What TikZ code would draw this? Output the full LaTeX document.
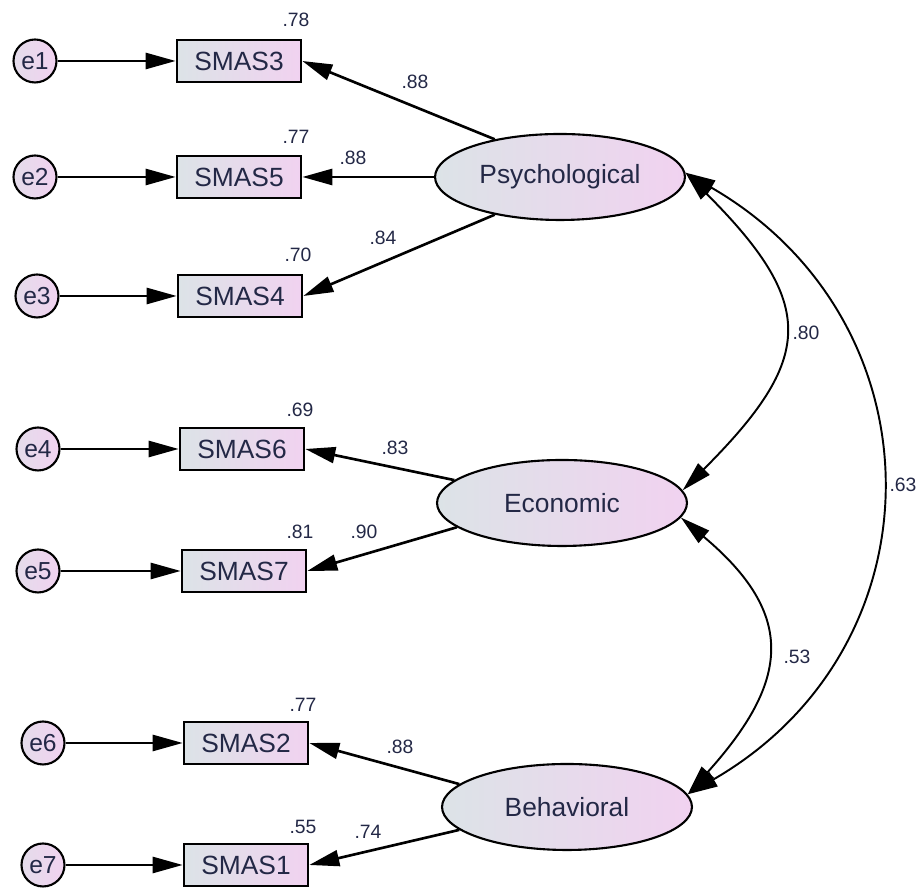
\documentclass[tikz,border=0pt]{standalone}
\usepackage{fontspec}
\setmainfont{Liberation Sans}
\usetikzlibrary{arrows.meta,shapes.geometric}

\definecolor{inkblue}{RGB}{35,40,70}
\definecolor{shadeleft}{RGB}{220,227,231}
\definecolor{shaderight}{RGB}{241,210,240}

\begin{document}
\begin{tikzpicture}[x=0.02cm, y=0.02cm, >={Triangle[length=0.6cm, width=0.32cm]},
    observed/.style={draw, line width=1.5pt, left color=shadeleft, right color=shaderight,
        minimum width=2.48cm, minimum height=0.84cm, inner sep=0pt, text=inkblue,
        font=\fontsize{15}{17}\selectfont},
    latent/.style={ellipse, draw, line width=1.2pt, left color=shadeleft, right color=shaderight,
        minimum width=5.0cm, minimum height=1.72cm, inner sep=0pt, text=inkblue,
        font=\fontsize{15}{17}\selectfont},
    errnode/.style={circle, draw, line width=1.2pt, left color=shadeleft!60!shaderight, right color=shaderight,
        minimum size=0.86cm, inner sep=0pt, text=inkblue, font=\fontsize{14}{16}\selectfont},
    coef/.style={text=inkblue, inner sep=0pt, font=\fontsize{11}{13}\selectfont},
    regpath/.style={->, line width=1.5pt},
    cov/.style={<->, line width=1.1pt}]

    \useasboundingbox (0,0) rectangle (921,888);

    % error terms
    \node[errnode] (e1) at (35,827) {e1};
    \node[errnode] (e2) at (35,711) {e2};
    \node[errnode] (e3) at (37,592) {e3};
    \node[errnode] (e4) at (38,439) {e4};
    \node[errnode] (e5) at (38,317) {e5};
    \node[errnode] (e6) at (43,145) {e6};
    \node[errnode] (e7) at (43,23) {e7};

    % indicators
    \node[observed] (s3) at (239,827) {SMAS3};
    \node[observed] (s5) at (239,711) {SMAS5};
    \node[observed] (s4) at (240,592) {SMAS4};
    \node[observed] (s6) at (242,439) {SMAS6};
    \node[observed] (s7) at (244,317) {SMAS7};
    \node[observed] (s2) at (246,145) {SMAS2};
    \node[observed] (s1) at (246,23) {SMAS1};

    % factors
    \node[latent] (psy) at (560,711) {Psychological};
    \node[latent] (eco) at (562,385) {Economic};
    \node[latent] (beh) at (567,81) {Behavioral};

    \foreach \e/\s in {e1/s3, e2/s5, e3/s4, e4/s6, e5/s7, e6/s2, e7/s1}
        \draw[regpath] (\e) -- (\s);

    % loadings
    \draw[regpath] (psy.150) -- (s3.east);
    \draw[regpath] (psy.west) -- (s5.east);
    \draw[regpath] (psy.-150) -- (s4.east);
    \draw[regpath] (eco.168) -- (s6.east);
    \draw[regpath] (eco.-167) -- (s7.east);
    \draw[regpath] (beh.168) -- (s2.east);
    \draw[regpath] (beh.-168) -- (s1.east);

    % correlations
    \draw[cov] (psy.2) to[out=-45, in=45, looseness=1.5] (eco.6);
    \draw[cov] (psy.2) to[out=-30, in=30, looseness=1.22] (beh.6);
    \draw[cov] (eco.-7) to[out=-40, in=48, looseness=1.4] (beh.6);

    % squared multiple correlations
    \node[coef] (r3) at (296,868) {.78};
    \node[coef] (r5) at (296,751) {.77};
    \node[coef] (r4) at (298,633) {.70};
    \node[coef] (r6) at (300,478) {.69};
    \node[coef] (r7) at (300,356) {.81};
    \node[coef] (r2) at (303,183) {.77};
    \node[coef] (r1) at (303,61) {.55};

    \node[coef] (w3) at (415,806) {.88};
    \node[coef] (w5) at (353,730) {.88};
    \node[coef] (w4) at (383,650) {.84};
    \node[coef] (w6) at (395,440) {.83};
    \node[coef] (w7) at (364,356) {.90};
    \node[coef] (w2) at (400,141) {.88};
    \node[coef] (w1) at (368,56) {.74};

    \node[coef] (c1) at (806,555) {.80};
    \node[coef] (c2) at (903,403) {.63};
    \node[coef] (c3) at (797,231) {.53};
\end{tikzpicture}
\end{document}
